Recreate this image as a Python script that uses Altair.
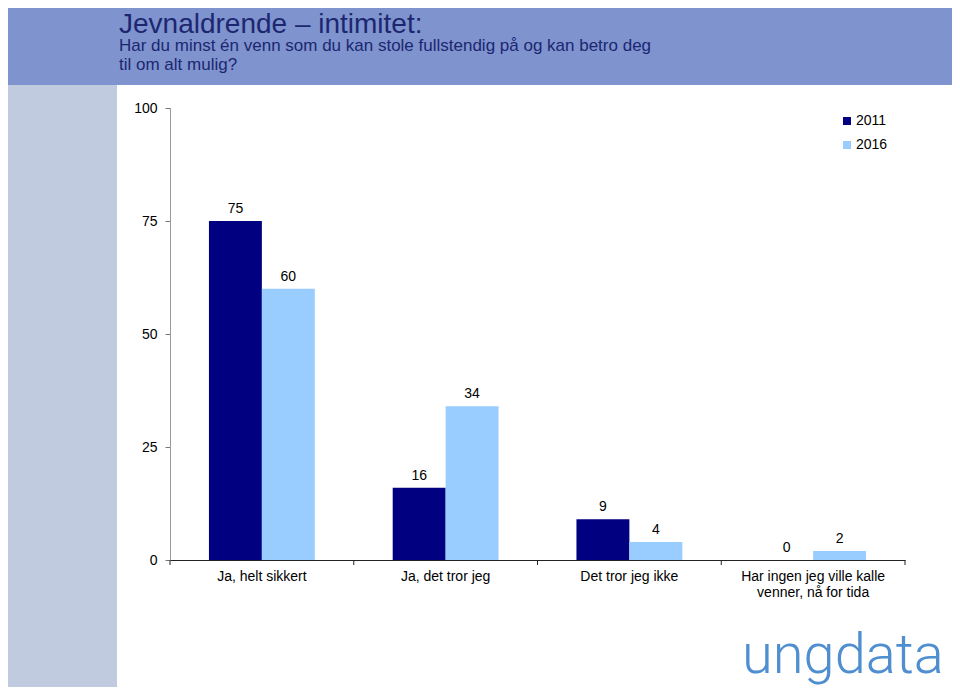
import altair as alt
import pandas as pd

categories = ["Ja, helt sikkert", "Ja, det tror jeg", "Det tror jeg ikke",
              "Har ingen jeg ville kalle venner, nå for tida"]
label_lines = [["Ja, helt sikkert"], ["Ja, det tror jeg"], ["Det tror jeg ikke"],
               ["Har ingen jeg ville kalle", "venner, nå for tida"]]
years = ["2011", "2016"]
values_2011 = [75, 16, 9, 0]
values_2016 = [60, 34, 4, 2]
y_ticks = [0, 25, 50, 75, 100]

title_text = "Jevnaldrende \u2013 intimitet:"
subtitle_1 = "Har du minst én venn som du kan stole fullstendig på og kan betro deg"
subtitle_2 = "til om alt mulig?"
logo_text = "ungdata"

rows = []
for c, a, b in zip(categories, values_2011, values_2016):
    rows.append({"cat": c, "year": "2011", "value": a})
    rows.append({"cat": c, "year": "2016", "value": b})
df = pd.DataFrame(rows)
cat_df = pd.DataFrame({"cat": categories})
last_df = pd.DataFrame({"cat": categories[-1:]})
one = pd.DataFrame({"a": [0]})

FONT = "Liberation Sans"
W, H = 735, 452
PL, PT, PR, PB = 162, 100, 47, 127

parts = []
for c, lines in zip(categories, label_lines):
    arr = "[" + ", ".join("'" + l + "'" for l in lines) + "]"
    parts.append(f"datum.value == '{c}' ? {arr} : ")
label_expr = "".join(parts) + "datum.value"

x_enc = alt.X("cat:N", sort=categories,
              scale=alt.Scale(paddingInner=0, paddingOuter=0),
              axis=alt.Axis(title=None, labelAngle=0, ticks=False,
                            labelFontSize=14, labelColor="black", labelFont=FONT,
                            labelExpr=label_expr, labelLineHeight=16,
                            domainColor="#222222", labelPadding=9, labelLimit=200))
xoff_enc = alt.XOffset("year:N", sort=years,
                       scale=alt.Scale(paddingOuter=0.736, paddingInner=0))
y_enc = alt.Y("value:Q", scale=alt.Scale(domain=[0, 100]),
              axis=alt.Axis(values=y_ticks, title=None, grid=False,
                            labelFontSize=14, labelColor="black", labelFont=FONT,
                            domainColor="#999999", tickColor="#777777",
                            tickSize=5, labelPadding=8))
color_enc = alt.Color("year:N", sort=years,
                      scale=alt.Scale(domain=years, range=["#000080", "#99ccff"]),
                      legend=alt.Legend(title=None, orient="none", legendX=670, legendY=6,
                                        symbolType="square", symbolSize=64,
                                        symbolStrokeWidth=0, labelFontSize=14,
                                        labelFont=FONT, labelColor="black",
                                        rowPadding=10, labelOffset=2))

header = alt.Chart(one).mark_rect(color="#7f93cf").encode(
    x=alt.value(-PL), x2=alt.value(W + PR), y=alt.value(-PT), y2=alt.value(-23))
sidebar = alt.Chart(one).mark_rect(color="#c0cbdf").encode(
    x=alt.value(-PL), x2=alt.value(-53), y=alt.value(-23), y2=alt.value(H + PB))

title = alt.Chart(one).mark_text(align="left", baseline="alphabetic", font=FONT,
                                 fontSize=28, color="#1c2770").encode(
    x=alt.value(-51), y=alt.value(-75), text=alt.value(title_text))
sub1 = alt.Chart(one).mark_text(align="left", baseline="alphabetic", font=FONT,
                                fontSize=17, color="#1c2770").encode(
    x=alt.value(-51), y=alt.value(-57), text=alt.value(subtitle_1))
sub2 = alt.Chart(one).mark_text(align="left", baseline="alphabetic", font=FONT,
                                fontSize=17, color="#1c2770").encode(
    x=alt.value(-51), y=alt.value(-38), text=alt.value(subtitle_2))

bars = alt.Chart(df).mark_bar().encode(x=x_enc, xOffset=xoff_enc, y=y_enc, color=color_enc)
labels = alt.Chart(df).mark_text(baseline="bottom", dy=-5, fontSize=14, font=FONT,
                                 color="black").encode(
    x=alt.X("cat:N", sort=categories), xOffset=alt.XOffset("year:N", sort=years),
    y="value:Q", text="value:Q")

ticks0 = alt.Chart(cat_df).mark_rule(color="#222222").encode(
    x=alt.X("cat:N", sort=categories, bandPosition=0), y=alt.value(H), y2=alt.value(H + 5))
ticks1 = alt.Chart(last_df).mark_rule(color="#222222").encode(
    x=alt.X("cat:N", sort=categories, bandPosition=1), y=alt.value(H), y2=alt.value(H + 5))

logo = alt.Chart(one).mark_text(align="left", baseline="alphabetic", font="Roboto",
                                fontSize=56, fontWeight=300, color="#4f8fd0").encode(
    x=alt.value(572), y=alt.value(565), text=alt.value(logo_text))

chart = alt.layer(header, sidebar, title, sub1, sub2, bars, labels, ticks0, ticks1, logo).properties(
    width=W, height=H,
    padding={"left": PL, "top": PT, "right": PR, "bottom": PB},
    autosize=alt.AutoSizeParams(type="none"),
).configure_view(stroke=None)

chart.save("out.html", embed_options={"renderer": "svg", "actions": False})
